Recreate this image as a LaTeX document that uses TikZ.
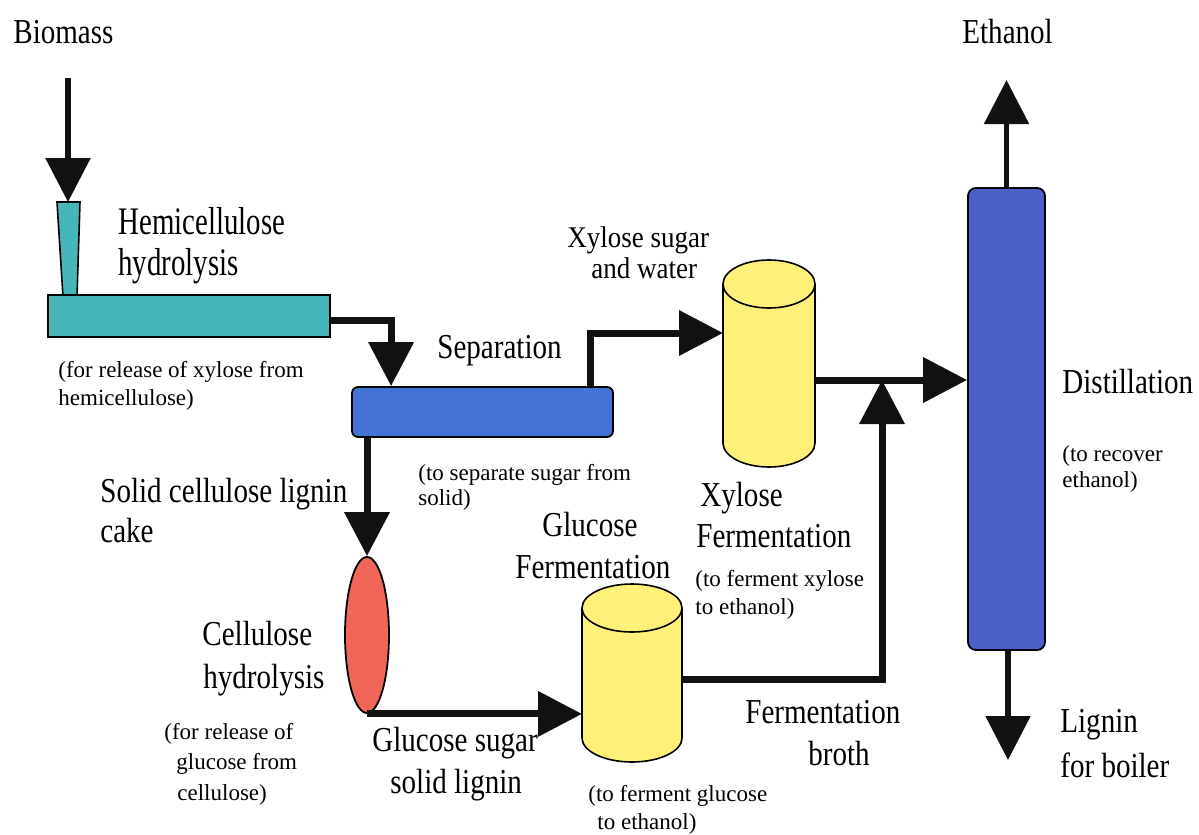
\documentclass[tikz,border=0pt]{standalone}
\usepackage{fontspec}
\setmainfont{Liberation Serif}
\newfontfamily\labelfont[FakeStretch=0.83]{Liberation Serif}
\newfontfamily\hemifont[FakeStretch=0.74]{Liberation Serif}
\newfontfamily\feedfont[FakeStretch=0.90]{Liberation Serif}
\usetikzlibrary{arrows.meta,calc,shapes.geometric}

\definecolor{hemiteal}{RGB}{70,182,186}
\definecolor{sepblue}{RGB}{68,114,214}
\definecolor{distblue}{RGB}{76,96,200}
\definecolor{tankyellow}{RGB}{255,240,122}
\definecolor{celred}{RGB}{240,102,88}
\definecolor{ink}{RGB}{17,17,17}

% upright tank: centre x, top-ellipse y, bottom-ellipse y, half width (all in px units)
\newcommand\drawtank[4]{%
  \filldraw[fill=tankyellow,draw=black,line width=0.8pt] (#1,#3) ellipse [x radius=#4, y radius=24];
  \fill[tankyellow] ({#1-#4},#2) rectangle ({#1+#4},#3);
  \draw[black,line width=0.8pt] ({#1-#4},#2) -- ({#1-#4},#3) ({#1+#4},#2) -- ({#1+#4},#3);
  \filldraw[fill=tankyellow,draw=black,line width=0.8pt] (#1,#2) ellipse [x radius=#4, y radius=24];
}

\begin{document}
\begin{tikzpicture}[x=0.5pt,y=-0.5pt,
  flow/.style={line width=3.5pt, draw=ink, -{Triangle[width=22pt,length=22pt]}},
  thinflow/.style={flow, line width=2.6pt},
  big/.style={font=\labelfont\fontsize{17.5pt}{21pt}\selectfont, inner sep=0pt, anchor=base west},
  hemilabel/.style={font=\hemifont\fontsize{19.5pt}{23pt}\selectfont, inner sep=0pt, anchor=base west},
  feedlabel/.style={font=\feedfont\fontsize{15pt}{18pt}\selectfont, inner sep=0pt, anchor=base west},
  small/.style={font=\fontsize{11.5pt}{14pt}\selectfont, inner sep=0pt, anchor=base west},
  unit/.style={draw=black, line width=0.9pt, inner sep=0pt},
  hidden/.style={inner sep=0pt, outer sep=0pt}
]
\path[use as bounding box] (0,0) rectangle (1199,835);

% ---- process units ----
\filldraw[fill=hemiteal,draw=black,line width=0.8pt]
  (57,202) -- (80,202) -- (77,297) -- (63,297) -- cycle;
\coordinate (tubetop) at (68,202);
\node[unit, fill=hemiteal, minimum width=141pt, minimum height=21pt] (hemi) at (189,316) {};
\node[unit, fill=sepblue, rounded corners=3pt, minimum width=130.5pt, minimum height=25pt] (sep) at (482.5,412) {};
\node[unit, fill=distblue, rounded corners=4pt, minimum width=38.5pt, minimum height=231pt] (dist) at (1006.5,419) {};
\node[unit, ellipse, fill=celred, minimum width=22pt, minimum height=78pt] (cel) at (367,635) {};

\drawtank{769}{284}{443}{46}
\node[hidden, minimum width=46pt, minimum height=79.5pt] (xyl) at (769,363.5) {};
\drawtank{632}{608}{738}{50}
\node[hidden, minimum width=50pt, minimum height=65pt] (glu) at (632,673) {};

% ---- streams ----
\coordinate (bioin) at (68,78);
\draw[flow, line width=3pt] (bioin) -- (tubetop);
\draw[flow] ([yshift=-2pt]hemi.east) -| ([xshift=20pt]sep.north west);
\draw[flow] ([xshift=-11.5pt]sep.north east) |- ([yshift=15.25pt]xyl.west);
\coordinate (xylout) at ([yshift=-8.25pt]xyl.east);
\draw[flow] (xylout) -- (xylout -| dist.west);
\coordinate (merge) at (882,380);
\draw[flow] ([yshift=-3pt]glu.east) -| (merge);
\draw[flow] (cel.north |- sep.south) -- (cel.north);
\draw[flow] (cel.south) -- (cel.south -| glu.west);
\coordinate (ethtip) at (1006.5,80);
\draw[thinflow] (dist.north) -- (ethtip);
\coordinate (lignintip) at (1008,760);
\draw[thinflow] (dist.south -| lignintip) -- (lignintip);

% ---- labels ----
\node[big] (l-bio) at (13,43) {Biomass};
\node[big] (l-eth) at (962,43) {Ethanol};
\node[hemilabel] (l-hemi1) at (118,234) {Hemicellulose};
\node[hemilabel] (l-hemi2) at (118,275) {hydrolysis};
\node[small] (l-hemi3) at (58,377) {(for release of xylose from};
\node[small] (l-hemi4) at (58,405) {hemicellulose)};
\node[feedlabel] (l-xs1) at (567,247) {Xylose sugar};
\node[feedlabel] (l-xs2) at (591,278) {and water};
\node[big] (l-sep) at (437,358) {Separation};
\node[small] (l-sep1) at (418,480) {(to separate sugar from};
\node[small] (l-sep2) at (418,505) {solid)};
\node[big] (l-dist) at (1062,393) {Distillation};
\node[small] (l-dist1) at (1062,461) {(to recover};
\node[small] (l-dist2) at (1062,487) {ethanol)};
\node[big] (l-cake1) at (100,502) {Solid cellulose lignin};
\node[big] (l-cake2) at (100,542) {cake};
\node[big] (l-gf1) at (542,536) {Glucose};
\node[big] (l-gf2) at (515,578) {Fermentation};
\node[big] (l-xf1) at (700,506) {Xylose};
\node[big] (l-xf2) at (696,547) {Fermentation};
\node[small] (l-xf3) at (695,586) {(to ferment xylose};
\node[small] (l-xf4) at (695,614) {to ethanol)};
\node[big] (l-ch1) at (202,645) {Cellulose};
\node[big] (l-ch2) at (203,688) {hydrolysis};
\node[small] (l-ch3) at (164,739) {(for release of};
\node[small] (l-ch4) at (176,769) {glucose from};
\node[small] (l-ch5) at (177,800) {cellulose)};
\node[big] (l-gs1) at (372,751) {Glucose sugar};
\node[big] (l-gs2) at (390,793) {solid lignin};
\node[small] (l-gf3) at (588,801) {(to ferment glucose};
\node[small] (l-gf4) at (597,829) {to ethanol)};
\node[big] (l-fb1) at (745,723) {Fermentation};
\node[big] (l-fb2) at (808,765) {broth};
\node[big] (l-lig1) at (1060,732) {Lignin};
\node[big] (l-lig2) at (1060,777) {for boiler};
\end{tikzpicture}
\end{document}
